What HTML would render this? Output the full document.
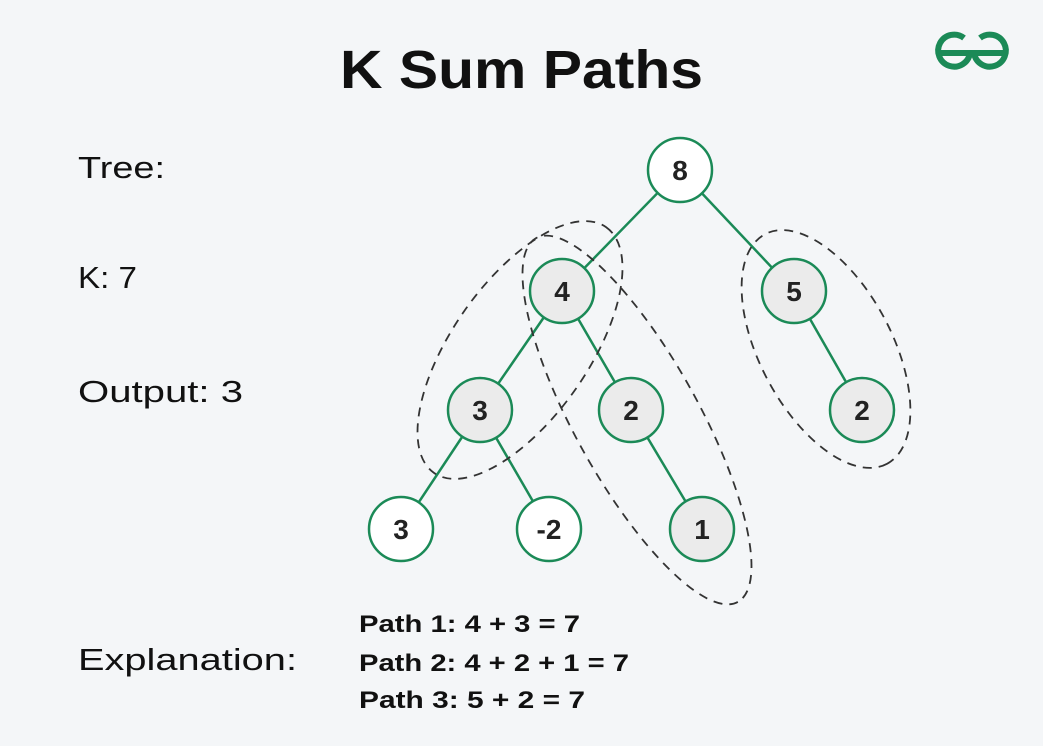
<!DOCTYPE html>
<html><head><style>
body{margin:0;background:#f4f6f8;}
svg{display:block}
</style></head><body>
<svg width="1043" height="746" viewBox="0 0 1043 746" xmlns="http://www.w3.org/2000/svg" font-family="'Liberation Sans',sans-serif">
<rect width="1043" height="746" fill="#f4f6f8"/>
<text x="340" y="88" textLength="363" lengthAdjust="spacingAndGlyphs" font-size="54" font-weight="bold" fill="#111">K Sum Paths</text>
<g fill="none" stroke="#1b8a57" stroke-width="6">
<path d="M941 53 H970 A16 16 0 1 1 964 38"/>
<path d="M1003 53 H974 A16 16 0 1 0 980 38"/>
</g>
<g font-size="31" fill="#111">
<text x="78" y="178" textLength="87" lengthAdjust="spacingAndGlyphs">Tree:</text>
<text x="78" y="288" textLength="59" lengthAdjust="spacingAndGlyphs">K: 7</text>
<text x="78" y="402" textLength="165" lengthAdjust="spacingAndGlyphs">Output: 3</text>
<text x="78" y="670" textLength="219" lengthAdjust="spacingAndGlyphs">Explanation:</text>
</g>
<g font-size="24" font-weight="bold" fill="#111">
<text x="359" y="632" textLength="221" lengthAdjust="spacingAndGlyphs">Path 1: 4 + 3 = 7</text>
<text x="359" y="671" textLength="270" lengthAdjust="spacingAndGlyphs">Path 2: 4 + 2 + 1 = 7</text>
<text x="359" y="708" textLength="226" lengthAdjust="spacingAndGlyphs">Path 3: 5 + 2 = 7</text>
</g>
<g stroke="#1b8a57" stroke-width="2.5">
<line x1="680" y1="170" x2="562" y2="291"/>
<line x1="680" y1="170" x2="794" y2="291"/>
<line x1="562" y1="291" x2="480" y2="410"/>
<line x1="562" y1="291" x2="631" y2="410"/>
<line x1="794" y1="291" x2="862" y2="410"/>
<line x1="480" y1="410" x2="401" y2="529"/>
<line x1="480" y1="410" x2="549" y2="529"/>
<line x1="631" y1="410" x2="702" y2="529"/>
</g>
<g fill="none" stroke="#333" stroke-width="1.8" stroke-dasharray="9,7">
<ellipse cx="520" cy="350" rx="150" ry="68" transform="rotate(-55 520 350)"/>
<ellipse cx="637" cy="420" rx="208" ry="62" transform="rotate(61 637 420)"/>
<ellipse cx="826" cy="349" rx="130" ry="66" transform="rotate(62 826 349)"/>
</g>
<g stroke="#1b8a57" stroke-width="2.5">
<circle cx="680" cy="170" r="32" fill="#fff"/>
<circle cx="562" cy="291" r="32" fill="#ebebeb"/>
<circle cx="794" cy="291" r="32" fill="#ebebeb"/>
<circle cx="480" cy="410" r="32" fill="#ebebeb"/>
<circle cx="631" cy="410" r="32" fill="#ebebeb"/>
<circle cx="862" cy="410" r="32" fill="#ebebeb"/>
<circle cx="401" cy="529" r="32" fill="#fff"/>
<circle cx="549" cy="529" r="32" fill="#fff"/>
<circle cx="702" cy="529" r="32" fill="#ebebeb"/>
</g>
<g font-size="28" font-weight="bold" fill="#222" text-anchor="middle">
<text x="680" y="180">8</text>
<text x="562" y="301">4</text>
<text x="794" y="301">5</text>
<text x="480" y="420">3</text>
<text x="631" y="420">2</text>
<text x="862" y="420">2</text>
<text x="401" y="539">3</text>
<text x="549" y="539">-2</text>
<text x="702" y="539">1</text>
</g>
</svg>
</body></html>
